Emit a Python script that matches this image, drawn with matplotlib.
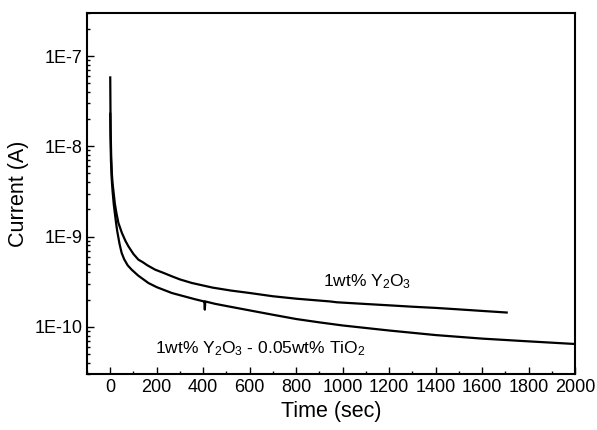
import matplotlib
matplotlib.use("Agg")
import matplotlib.pyplot as plt
from matplotlib.ticker import LogLocator, FixedLocator, MultipleLocator, FuncFormatter

plt.rcParams["font.family"] = ["Liberation Sans", "DejaVu Sans"]
plt.rcParams["mathtext.fontset"] = "custom"
plt.rcParams["mathtext.rm"] = "Liberation Sans"
plt.rcParams["mathtext.it"] = "Liberation Sans"

# 1wt% Y2O3 (upper curve)
t_y2o3 = [0, 1, 2, 4, 7, 10, 15, 20, 27, 35, 50, 65, 78, 100, 121, 140, 160,
          193, 230, 265, 300, 351, 440, 520, 600, 700, 800, 946, 975, 1100,
          1200, 1300, 1400, 1500, 1600, 1706]
i_y2o3 = [5.8e-8, 2.5e-8, 1.4e-8, 8.0e-9, 5.0e-9, 3.9e-9, 3.0e-9, 2.3e-9,
          1.8e-9, 1.42e-9, 1.1e-9, 9.0e-10, 7.8e-10, 6.4e-10, 5.55e-10,
          5.2e-10, 4.8e-10, 4.3e-10, 3.95e-10, 3.63e-10, 3.35e-10, 3.06e-10,
          2.72e-10, 2.52e-10, 2.37e-10, 2.18e-10, 2.05e-10, 1.91e-10,
          1.87e-10, 1.79e-10, 1.73e-10, 1.67e-10, 1.62e-10, 1.56e-10,
          1.5e-10, 1.44e-10]

# 1wt% Y2O3 - 0.05wt% TiO2 (lower curve)
t_tio2 = [0, 1, 3, 6, 10, 15, 20, 25, 30, 40, 49, 60, 75, 92, 120, 164, 200,
          265, 300, 365, 400, 405, 407, 409, 450, 500, 600, 700, 800, 900,
          1000, 1200, 1400, 1600, 1800, 2000]
i_tio2 = [2.3e-8, 1.3e-8, 7.0e-9, 4.5e-9, 3.2e-9, 2.3e-9, 1.8e-9, 1.42e-9,
          1.15e-9, 8.3e-10, 6.6e-10, 5.6e-10, 4.8e-10, 4.3e-10, 3.7e-10,
          3.06e-10, 2.75e-10, 2.37e-10, 2.24e-10, 2.02e-10, 1.92e-10,
          1.91e-10, 1.55e-10, 1.91e-10, 1.8e-10, 1.7e-10, 1.52e-10, 1.36e-10,
          1.22e-10, 1.12e-10, 1.035e-10, 9.1e-11, 8.1e-11, 7.4e-11, 6.9e-11,
          6.45e-11]

y_ticks = [1e-10, 1e-9, 1e-8, 1e-7]
y_labels = ["1E-10", "1E-9", "1E-8", "1E-7"]

fig = plt.figure(figsize=(5.97, 4.30), dpi=100)
ax = fig.add_axes([87 / 597, 1 - 374 / 430, (575 - 87) / 597, (374 - 13) / 430])

ax.plot(t_y2o3, i_y2o3, color="black", lw=1.6)
ax.plot(t_tio2, i_tio2, color="black", lw=1.6)

ax.set_yscale("log")
ax.set_xlim(-100, 2000)
ax.set_ylim(3.0e-11, 3.0e-7)

ax.xaxis.set_major_locator(MultipleLocator(200))
ax.xaxis.set_minor_locator(MultipleLocator(100))
ax.yaxis.set_major_locator(FixedLocator(y_ticks))
ax.yaxis.set_minor_locator(LogLocator(base=10, subs=range(2, 10)))
ax.yaxis.set_major_formatter(FuncFormatter(
    lambda v, p: y_labels[y_ticks.index(v)] if v in y_ticks else ""))
ax.yaxis.set_minor_formatter(FuncFormatter(lambda v, p: ""))

ax.tick_params(which="both", direction="in", top=False, right=False,
               labelsize=13, width=1.0)
ax.tick_params(which="major", length=5)
ax.tick_params(which="minor", length=2.5)
for s in ax.spines.values():
    s.set_linewidth(1.5)

ax.set_xlabel("Time (sec)", fontsize=15.5, labelpad=4)
ax.set_ylabel("Current (A)", fontsize=15.5, labelpad=4)

ax.text(916, 2.78e-10, r"1wt% Y$_2$O$_3$", fontsize=12.5, ha="left", va="baseline")
ax.text(193, 5.1e-11, r"1wt% Y$_2$O$_3$ - 0.05wt% TiO$_2$", fontsize=12.5,
        ha="left", va="baseline")

fig.savefig("out.png", dpi=100)
